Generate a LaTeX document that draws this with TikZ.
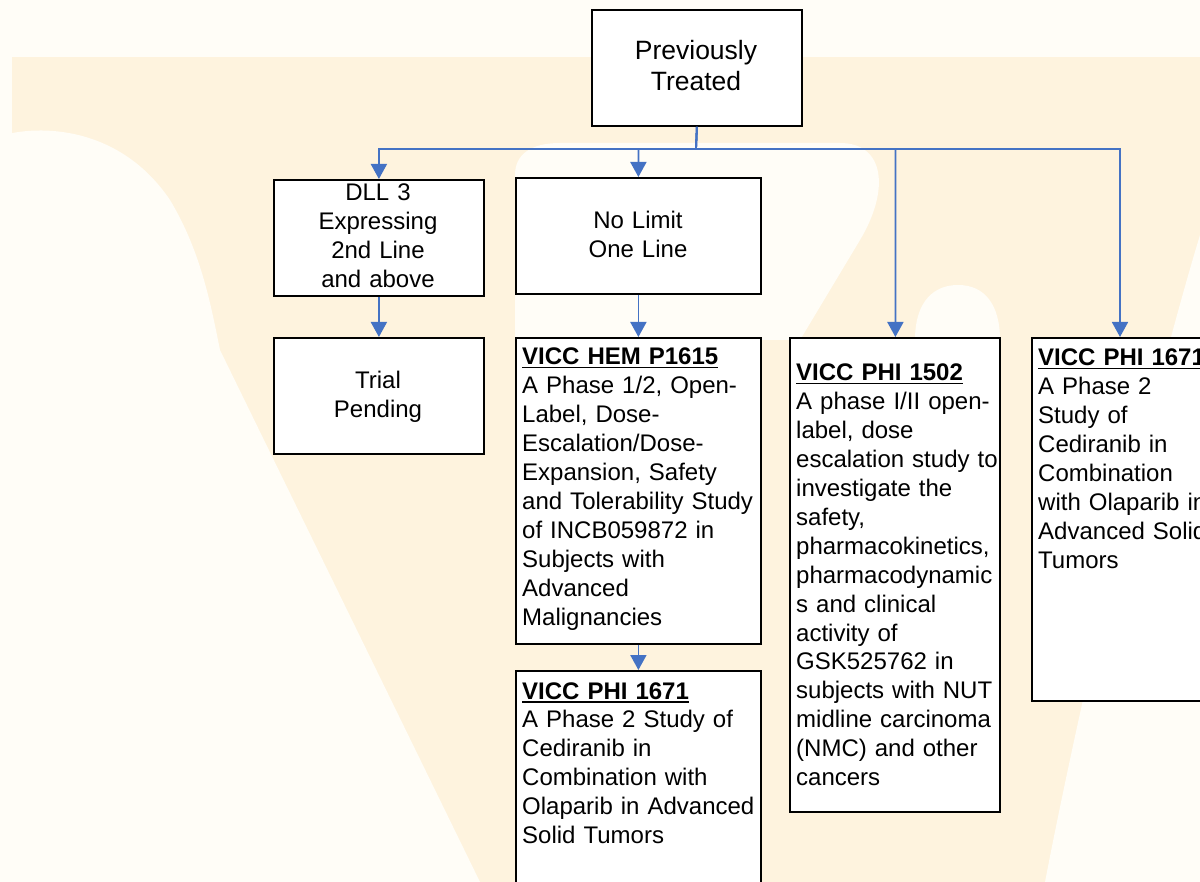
\documentclass[tikz,border=0pt]{standalone}
\usepackage{fontspec}
\setmainfont{Liberation Sans}
\usetikzlibrary{arrows.meta}
\definecolor{bgpale}{HTML}{FFFDF7}
\definecolor{bgband}{HTML}{FEF3DE}
\definecolor{connblue}{HTML}{4472C4}
\newlength{\vtw}
\newcommand{\vtitle}[1]{\settowidth{\vtw}{\textbf{#1}}\textbf{#1}\hspace{-\vtw}\rule[-3.5pt]{\vtw}{1.8pt}}
\tikzset{
  box/.style={draw=black, line width=1.8pt, fill=white, rectangle, inner sep=0pt, anchor=north west},
  conn/.style={draw=connblue, line width=1.8pt, -{Triangle[length=15pt,width=16pt]}},
  ctext/.style={inner sep=0pt, anchor=base, align=center, text width=#1},
  ltext/.style={inner sep=0pt, anchor=base west, align=left, text width=#1},
  body/.style={font=\fontsize{24}{28.9}\selectfont},
}
\begin{document}
\begin{tikzpicture}[x=1pt,y=-1pt]
\useasboundingbox (0,0) rectangle (1200,882);
\clip (0,0) rectangle (1200,882);
% watermark background
\fill[bgpale] (0,0) rectangle (1200,882);
\fill[bgband] (12,57) rectangle (1200,882);
\fill[bgpale] (0,136) .. controls (40,124) and (120,126) .. (170,200)
  .. controls (200,250) and (210,300) .. (220,350) -- (480,882) -- (0,882) -- cycle;
\fill[bgpale] (515,340) -- (515,175) .. controls (515,155) and (530,143) .. (560,143)
  -- (840,143) .. controls (885,143) and (890,190) .. (860,240) -- (800,340) -- cycle;
\fill[bgpale] (915,340) .. controls (915,300) and (935,285) .. (958,285)
  .. controls (985,285) and (1000,305) .. (1000,340) -- cycle;
\fill[bgpale] (1200,235) .. controls (1150,400) and (1080,700) .. (1045,882) -- (1200,882) -- cycle;

% boxes
\node[box, minimum width=210pt, minimum height=116pt] (prev) at (591,9) {};
\node[box, minimum width=210pt, minimum height=116pt] (dll) at (273,179) {};
\node[box, minimum width=245pt, minimum height=116pt] (nolim) at (515,177) {};
\node[box, minimum width=210pt, minimum height=116pt] (trial) at (273,337) {};
\node[box, minimum width=245pt, minimum height=306pt] (hem) at (515,337) {};
\node[box, minimum width=245pt, minimum height=260pt] (phimid) at (515,670) {};
\node[box, minimum width=210pt, minimum height=474pt] (phi1502) at (789,337) {};
\node[box, minimum width=240pt, minimum height=363pt] (phiright) at (1031,337) {};

% texts
\node[ctext=200pt, font=\fontsize{26.5}{31.5}\selectfont] (prevt) at (696,59.5) {Previously\\Treated};
\node[ctext=200pt, body] (dllt) at (378,201) {DLL 3\\Expressing\\2nd Line\\and above};
\node[ctext=230pt, body] (nolimt) at (638,228.5) {No Limit\\One Line};
\node[ctext=200pt, body] (trialt) at (378,388.5) {Trial\\Pending};
\node[ltext=300pt, body] (hemt) at (522,365) {\vtitle{VICC HEM P1615}\\A Phase 1/2, Open-\\Label, Dose-\\Escalation/Dose-\\Expansion, Safety\\and Tolerability Study\\of INCB059872 in\\Subjects with\\Advanced\\Malignancies};
\node[ltext=300pt, body] (phimidt) at (522,699) {\vtitle{VICC PHI 1671}\\A Phase 2 Study of\\Cediranib in\\Combination with\\Olaparib in Advanced\\Solid Tumors};
\node[ltext=300pt, body] (phi1502t) at (796,381) {\vtitle{VICC PHI 1502}\\A phase I/II open-\\label, dose\\escalation study to\\investigate the\\safety,\\pharmacokinetics,\\pharmacodynamic\\s and clinical\\activity of\\GSK525762 in\\subjects with NUT\\midline carcinoma\\(NMC) and other\\cancers};
\node[ltext=300pt, body] (phirightt) at (1038,366) {\vtitle{VICC PHI 1671}\\A Phase 2\\Study of\\Cediranib in\\Combination\\with Olaparib in\\Advanced Solid\\Tumors};

% connectors
\coordinate (bus) at (696,149);
\draw[conn] (prev.south) -- (bus) -| (dll.north);
\draw[conn] (prev.south) -- (bus) -| (nolim.north);
\draw[conn] (prev.south) -- (bus) -| ([xshift=0.5pt]phi1502.north);
\draw[conn] (prev.south) -- (bus) -| ([xshift=89pt]phiright.north west);
\draw[conn] (dll.south) -- (trial.north);
\draw[conn] (nolim.south) -- (hem.north);
\draw[conn] (hem.south) -- (phimid.north);
\end{tikzpicture}
\end{document}
